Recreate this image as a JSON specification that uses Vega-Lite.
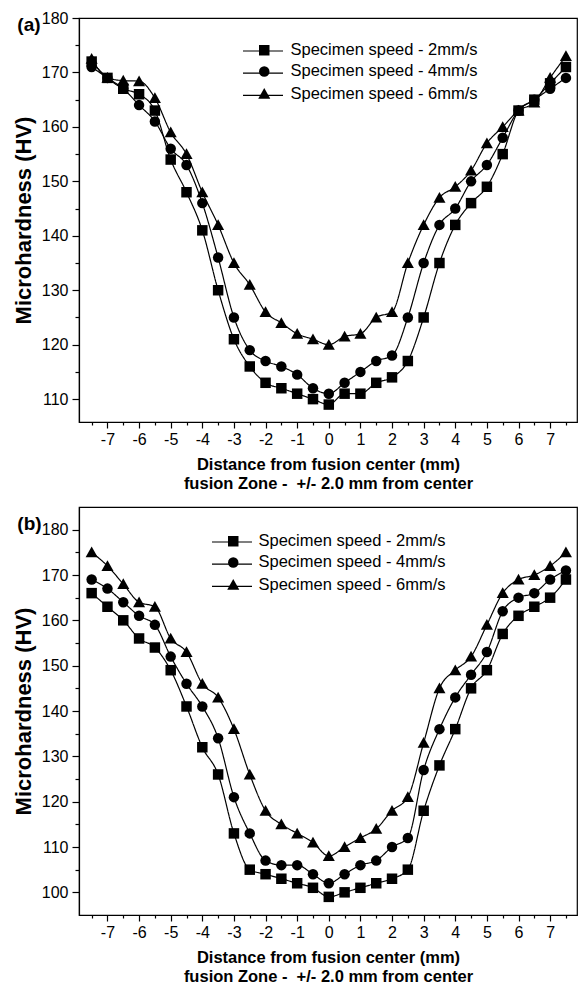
{
  "$schema": "https://vega.github.io/schema/vega-lite/v6.json",
  "background": "white",
  "padding": {"left": 11, "top": 9, "right": 0, "bottom": 0},
  "spacing": 13,
  "config": {
    "font": "Liberation Sans",
    "locale": {"number": {"decimal": ".", "thousands": ",", "grouping": [3], "currency": ["$", ""], "minus": "-"}},
    "view": {"stroke": "black", "strokeWidth": 1.2},
    "axis": {
      "grid": false,
      "domainColor": "black", "domainWidth": 1.2,
      "tickColor": "black", "tickWidth": 1.2,
      "labelColor": "black", "labelFont": "Liberation Sans", "labelFontSize": 16,
      "titleColor": "black", "titleFont": "Liberation Sans", "titleFontWeight": "bold",
      "labelOverlap": false
    }
  },
  "resolve": {
    "scale": {"x": "independent", "y": "independent", "shape": "independent", "strokeDash": "independent"},
    "legend": {"shape": "independent", "strokeDash": "independent"}
  },
  "datasets": {
    "a": [
      {"d": -7.5, "Specimen speed - 2mm/s": 172, "Specimen speed - 4mm/s": 171, "Specimen speed - 6mm/s": 172.5},
      {"d": -7, "Specimen speed - 2mm/s": 169, "Specimen speed - 4mm/s": 169, "Specimen speed - 6mm/s": 169},
      {"d": -6.5, "Specimen speed - 2mm/s": 167, "Specimen speed - 4mm/s": 167, "Specimen speed - 6mm/s": 168.5},
      {"d": -6, "Specimen speed - 2mm/s": 166, "Specimen speed - 4mm/s": 164, "Specimen speed - 6mm/s": 168.4},
      {"d": -5.5, "Specimen speed - 2mm/s": 163, "Specimen speed - 4mm/s": 161, "Specimen speed - 6mm/s": 165.3},
      {"d": -5, "Specimen speed - 2mm/s": 154, "Specimen speed - 4mm/s": 156, "Specimen speed - 6mm/s": 159},
      {"d": -4.5, "Specimen speed - 2mm/s": 148, "Specimen speed - 4mm/s": 153, "Specimen speed - 6mm/s": 155},
      {"d": -4, "Specimen speed - 2mm/s": 141, "Specimen speed - 4mm/s": 146, "Specimen speed - 6mm/s": 148},
      {"d": -3.5, "Specimen speed - 2mm/s": 130, "Specimen speed - 4mm/s": 136, "Specimen speed - 6mm/s": 142},
      {"d": -3, "Specimen speed - 2mm/s": 121, "Specimen speed - 4mm/s": 125, "Specimen speed - 6mm/s": 135},
      {"d": -2.5, "Specimen speed - 2mm/s": 116, "Specimen speed - 4mm/s": 119, "Specimen speed - 6mm/s": 131},
      {"d": -2, "Specimen speed - 2mm/s": 113, "Specimen speed - 4mm/s": 117, "Specimen speed - 6mm/s": 126},
      {"d": -1.5, "Specimen speed - 2mm/s": 112, "Specimen speed - 4mm/s": 116, "Specimen speed - 6mm/s": 124},
      {"d": -1, "Specimen speed - 2mm/s": 111, "Specimen speed - 4mm/s": 114.5, "Specimen speed - 6mm/s": 122},
      {"d": -0.5, "Specimen speed - 2mm/s": 110, "Specimen speed - 4mm/s": 112, "Specimen speed - 6mm/s": 121},
      {"d": 0, "Specimen speed - 2mm/s": 109, "Specimen speed - 4mm/s": 111, "Specimen speed - 6mm/s": 120},
      {"d": 0.5, "Specimen speed - 2mm/s": 111, "Specimen speed - 4mm/s": 113, "Specimen speed - 6mm/s": 121.5},
      {"d": 1, "Specimen speed - 2mm/s": 111, "Specimen speed - 4mm/s": 115, "Specimen speed - 6mm/s": 122},
      {"d": 1.5, "Specimen speed - 2mm/s": 113, "Specimen speed - 4mm/s": 117, "Specimen speed - 6mm/s": 125},
      {"d": 2, "Specimen speed - 2mm/s": 114, "Specimen speed - 4mm/s": 118, "Specimen speed - 6mm/s": 126},
      {"d": 2.5, "Specimen speed - 2mm/s": 117, "Specimen speed - 4mm/s": 125, "Specimen speed - 6mm/s": 135},
      {"d": 3, "Specimen speed - 2mm/s": 125, "Specimen speed - 4mm/s": 135, "Specimen speed - 6mm/s": 142},
      {"d": 3.5, "Specimen speed - 2mm/s": 135, "Specimen speed - 4mm/s": 142, "Specimen speed - 6mm/s": 147},
      {"d": 4, "Specimen speed - 2mm/s": 142, "Specimen speed - 4mm/s": 145, "Specimen speed - 6mm/s": 149},
      {"d": 4.5, "Specimen speed - 2mm/s": 146, "Specimen speed - 4mm/s": 150, "Specimen speed - 6mm/s": 152},
      {"d": 5, "Specimen speed - 2mm/s": 149, "Specimen speed - 4mm/s": 153, "Specimen speed - 6mm/s": 157},
      {"d": 5.5, "Specimen speed - 2mm/s": 155, "Specimen speed - 4mm/s": 158, "Specimen speed - 6mm/s": 160},
      {"d": 6, "Specimen speed - 2mm/s": 163, "Specimen speed - 4mm/s": 163, "Specimen speed - 6mm/s": 163},
      {"d": 6.5, "Specimen speed - 2mm/s": 165, "Specimen speed - 4mm/s": 165, "Specimen speed - 6mm/s": 164.5},
      {"d": 7, "Specimen speed - 2mm/s": 168, "Specimen speed - 4mm/s": 167, "Specimen speed - 6mm/s": 169},
      {"d": 7.5, "Specimen speed - 2mm/s": 171, "Specimen speed - 4mm/s": 169, "Specimen speed - 6mm/s": 173}
    ],
    "b": [
      {"d": -7.5, "Specimen speed - 2mm/s": 166, "Specimen speed - 4mm/s": 169, "Specimen speed - 6mm/s": 175},
      {"d": -7, "Specimen speed - 2mm/s": 163, "Specimen speed - 4mm/s": 167, "Specimen speed - 6mm/s": 172},
      {"d": -6.5, "Specimen speed - 2mm/s": 160, "Specimen speed - 4mm/s": 164, "Specimen speed - 6mm/s": 168},
      {"d": -6, "Specimen speed - 2mm/s": 156, "Specimen speed - 4mm/s": 161, "Specimen speed - 6mm/s": 164},
      {"d": -5.5, "Specimen speed - 2mm/s": 154, "Specimen speed - 4mm/s": 159, "Specimen speed - 6mm/s": 163},
      {"d": -5, "Specimen speed - 2mm/s": 149, "Specimen speed - 4mm/s": 152, "Specimen speed - 6mm/s": 156},
      {"d": -4.5, "Specimen speed - 2mm/s": 141, "Specimen speed - 4mm/s": 146, "Specimen speed - 6mm/s": 153},
      {"d": -4, "Specimen speed - 2mm/s": 132, "Specimen speed - 4mm/s": 141, "Specimen speed - 6mm/s": 146},
      {"d": -3.5, "Specimen speed - 2mm/s": 126, "Specimen speed - 4mm/s": 134, "Specimen speed - 6mm/s": 143},
      {"d": -3, "Specimen speed - 2mm/s": 113, "Specimen speed - 4mm/s": 121, "Specimen speed - 6mm/s": 136},
      {"d": -2.5, "Specimen speed - 2mm/s": 105, "Specimen speed - 4mm/s": 113, "Specimen speed - 6mm/s": 126},
      {"d": -2, "Specimen speed - 2mm/s": 104, "Specimen speed - 4mm/s": 107, "Specimen speed - 6mm/s": 118},
      {"d": -1.5, "Specimen speed - 2mm/s": 103, "Specimen speed - 4mm/s": 106, "Specimen speed - 6mm/s": 115},
      {"d": -1, "Specimen speed - 2mm/s": 102, "Specimen speed - 4mm/s": 106, "Specimen speed - 6mm/s": 113},
      {"d": -0.5, "Specimen speed - 2mm/s": 101, "Specimen speed - 4mm/s": 104, "Specimen speed - 6mm/s": 111},
      {"d": 0, "Specimen speed - 2mm/s": 99, "Specimen speed - 4mm/s": 102, "Specimen speed - 6mm/s": 108},
      {"d": 0.5, "Specimen speed - 2mm/s": 100, "Specimen speed - 4mm/s": 104, "Specimen speed - 6mm/s": 110},
      {"d": 1, "Specimen speed - 2mm/s": 101, "Specimen speed - 4mm/s": 106, "Specimen speed - 6mm/s": 112},
      {"d": 1.5, "Specimen speed - 2mm/s": 102, "Specimen speed - 4mm/s": 107, "Specimen speed - 6mm/s": 114},
      {"d": 2, "Specimen speed - 2mm/s": 103, "Specimen speed - 4mm/s": 110, "Specimen speed - 6mm/s": 118},
      {"d": 2.5, "Specimen speed - 2mm/s": 105, "Specimen speed - 4mm/s": 112, "Specimen speed - 6mm/s": 121},
      {"d": 3, "Specimen speed - 2mm/s": 118, "Specimen speed - 4mm/s": 127, "Specimen speed - 6mm/s": 133},
      {"d": 3.5, "Specimen speed - 2mm/s": 128, "Specimen speed - 4mm/s": 136, "Specimen speed - 6mm/s": 145},
      {"d": 4, "Specimen speed - 2mm/s": 136, "Specimen speed - 4mm/s": 143, "Specimen speed - 6mm/s": 149},
      {"d": 4.5, "Specimen speed - 2mm/s": 145, "Specimen speed - 4mm/s": 148, "Specimen speed - 6mm/s": 152},
      {"d": 5, "Specimen speed - 2mm/s": 149, "Specimen speed - 4mm/s": 153, "Specimen speed - 6mm/s": 159},
      {"d": 5.5, "Specimen speed - 2mm/s": 157, "Specimen speed - 4mm/s": 162, "Specimen speed - 6mm/s": 166},
      {"d": 6, "Specimen speed - 2mm/s": 161, "Specimen speed - 4mm/s": 165, "Specimen speed - 6mm/s": 169},
      {"d": 6.5, "Specimen speed - 2mm/s": 163, "Specimen speed - 4mm/s": 166, "Specimen speed - 6mm/s": 170},
      {"d": 7, "Specimen speed - 2mm/s": 165, "Specimen speed - 4mm/s": 169, "Specimen speed - 6mm/s": 172},
      {"d": 7.5, "Specimen speed - 2mm/s": 169, "Specimen speed - 4mm/s": 171, "Specimen speed - 6mm/s": 175}
    ]
  },
  "vconcat": [
    {
      "width": 498,
      "height": 404,
      "encoding": {
        "x": {"field": "d", "type": "quantitative", "scale": {"domain": [-7.9, 7.85], "nice": false, "zero": false},
          "axis": {
            "values": [-7.5, -7, -6.5, -6, -5.5, -5, -4.5, -4, -3.5, -3, -2.5, -2, -1.5, -1, -0.5, 0, 0.5, 1, 1.5, 2, 2.5, 3, 3.5, 4, 4.5, 5, 5.5, 6, 6.5, 7, 7.5],
            "format": ".0f",
            "labelExpr": "datum.value % 1 === 0 ? datum.label : ''",
            "tickSize": {"condition": {"test": "datum.value % 1 === 0", "value": 6}, "value": 3},
            "labelPadding": 3,
            "title": ["Distance from fusion center (mm)", "fusion Zone - \u00a0+/- 2.0 mm from center"],
            "titleFontSize": 16.5, "titleLineHeight": 19, "titlePadding": 9
          }},
        "y": {"field": "hv", "type": "quantitative", "scale": {"domain": [105.8, 180], "nice": false, "zero": false},
          "axis": {
            "values": [110, 115, 120, 125, 130, 135, 140, 145, 150, 155, 160, 165, 170, 175, 180],
            "labelExpr": "datum.value % 10 === 0 ? datum.label : ''",
            "tickSize": {"condition": {"test": "datum.value % 10 === 0", "value": 7}, "value": 4},
            "labelPadding": 4,
            "title": "Microhardness (HV)", "titleFontSize": 22, "titlePadding": 6
          }}
      },
      "layer": [
        {
          "data": {"name": "a"},
          "transform": [{"fold": ["Specimen speed - 2mm/s", "Specimen speed - 4mm/s", "Specimen speed - 6mm/s"], "as": ["series", "hv"]}],
          "mark": {"type": "line", "color": "black", "strokeWidth": 1.2, "interpolate": "monotone"},
          "encoding": {
            "strokeDash": {"field": "series", "type": "nominal",
              "scale": {"range": [[1, 0], [1, 0], [1, 0]]},
              "legend": {"orient": "none", "legendX": 175, "legendY": 24, "title": null, "padding": 0,
                "labelFontSize": 16.5, "labelExpr": "''", "rowPadding": 4.2,
                "symbolType": "M-2.5,0H2.5", "symbolSize": 256, "symbolStrokeColor": "black", "symbolStrokeWidth": 1.2, "symbolFillColor": "transparent"}}
          }
        },
        {
          "data": {"name": "a"},
          "transform": [{"fold": ["Specimen speed - 2mm/s", "Specimen speed - 4mm/s", "Specimen speed - 6mm/s"], "as": ["series", "hv"]}],
          "mark": {"type": "point", "filled": true, "color": "black", "opacity": 1, "size": 110},
          "encoding": {
            "shape": {"field": "series", "type": "nominal",
              "scale": {"domain": ["Specimen speed - 2mm/s", "Specimen speed - 4mm/s", "Specimen speed - 6mm/s"], "range": ["square", "circle", "M-1.15,0.95L0,-1.1L1.15,0.95Z"]},
              "legend": {"orient": "none", "legendX": 177, "legendY": 24, "title": null, "padding": 0,
                "labelFontSize": 16.5, "labelFont": "Liberation Sans", "labelColor": "black", "labelLimit": 400, "labelOffset": 18, "rowPadding": 4.2,
                "symbolSize": 110, "symbolFillColor": "black", "symbolStrokeColor": "black"}}
          }
        },
        {
          "data": {"values": [{"d": -9.85, "hv": 178.7}]},
          "mark": {"type": "text", "text": "(a)", "fontSize": 19, "fontWeight": "bold", "align": "left", "baseline": "middle", "color": "black"}
        }
      ]
    },
    {
      "width": 498,
      "height": 408,
      "encoding": {
        "x": {"field": "d", "type": "quantitative", "scale": {"domain": [-7.9, 7.85], "nice": false, "zero": false},
          "axis": {
            "values": [-7.5, -7, -6.5, -6, -5.5, -5, -4.5, -4, -3.5, -3, -2.5, -2, -1.5, -1, -0.5, 0, 0.5, 1, 1.5, 2, 2.5, 3, 3.5, 4, 4.5, 5, 5.5, 6, 6.5, 7, 7.5],
            "format": ".0f",
            "labelExpr": "datum.value % 1 === 0 ? datum.label : ''",
            "tickSize": {"condition": {"test": "datum.value % 1 === 0", "value": 6}, "value": 3},
            "labelPadding": 3,
            "title": ["Distance from fusion center (mm)", "fusion Zone - \u00a0+/- 2.0 mm from center"],
            "titleFontSize": 16.5, "titleLineHeight": 19, "titlePadding": 9
          }},
        "y": {"field": "hv", "type": "quantitative", "scale": {"domain": [95, 185], "nice": false, "zero": false},
          "axis": {
            "values": [100, 105, 110, 115, 120, 125, 130, 135, 140, 145, 150, 155, 160, 165, 170, 175, 180],
            "labelExpr": "datum.value % 10 === 0 ? datum.label : ''",
            "tickSize": {"condition": {"test": "datum.value % 10 === 0", "value": 7}, "value": 4},
            "labelPadding": 4,
            "title": "Microhardness (HV)", "titleFontSize": 22, "titlePadding": 6
          }}
      },
      "layer": [
        {
          "data": {"name": "b"},
          "transform": [{"fold": ["Specimen speed - 2mm/s", "Specimen speed - 4mm/s", "Specimen speed - 6mm/s"], "as": ["series", "hv"]}],
          "mark": {"type": "line", "color": "black", "strokeWidth": 1.2, "interpolate": "monotone"},
          "encoding": {
            "strokeDash": {"field": "series", "type": "nominal",
              "scale": {"range": [[1, 0], [1, 0], [1, 0]]},
              "legend": {"orient": "none", "legendX": 144, "legendY": 26, "title": null, "padding": 0,
                "labelFontSize": 16.5, "labelExpr": "''", "rowPadding": 4.2,
                "symbolType": "M-2.5,0H2.5", "symbolSize": 256, "symbolStrokeColor": "black", "symbolStrokeWidth": 1.2, "symbolFillColor": "transparent"}}
          }
        },
        {
          "data": {"name": "b"},
          "transform": [{"fold": ["Specimen speed - 2mm/s", "Specimen speed - 4mm/s", "Specimen speed - 6mm/s"], "as": ["series", "hv"]}],
          "mark": {"type": "point", "filled": true, "color": "black", "opacity": 1, "size": 110},
          "encoding": {
            "shape": {"field": "series", "type": "nominal",
              "scale": {"domain": ["Specimen speed - 2mm/s", "Specimen speed - 4mm/s", "Specimen speed - 6mm/s"], "range": ["square", "circle", "M-1.15,0.95L0,-1.1L1.15,0.95Z"]},
              "legend": {"orient": "none", "legendX": 146, "legendY": 26, "title": null, "padding": 0,
                "labelFontSize": 16.5, "labelFont": "Liberation Sans", "labelColor": "black", "labelLimit": 400, "labelOffset": 17, "rowPadding": 4.2,
                "symbolSize": 110, "symbolFillColor": "black", "symbolStrokeColor": "black"}}
          }
        },
        {
          "data": {"values": [{"d": -9.85, "hv": 181.3}]},
          "mark": {"type": "text", "text": "(b)", "fontSize": 19, "fontWeight": "bold", "align": "left", "baseline": "middle", "color": "black"}
        }
      ]
    }
  ]
}
